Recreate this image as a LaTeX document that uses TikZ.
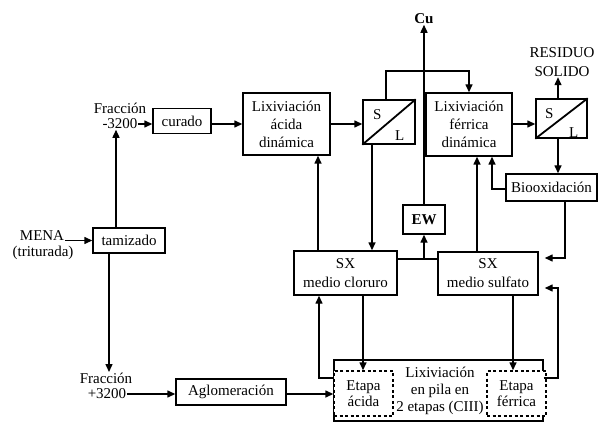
\documentclass[tikz,border=0pt]{standalone}
\usepackage{fontspec}
\setmainfont{Liberation Serif}
\usepackage{tikz}
\usetikzlibrary{arrows.meta,calc}

\begin{document}
\begin{tikzpicture}[->,>={Triangle[length=8pt,width=7pt]},x=1pt,y=-1pt,line width=1.4pt,
  font=\fontsize{15}{18}\selectfont,
  main node/.style={draw,rectangle,inner sep=0pt,align=center},
  sep node/.style={draw,rectangle,inner sep=0pt,minimum width=52pt,minimum height=44pt},
  txt node/.style={inner sep=0pt,align=center},
  stage node/.style={draw,dash pattern=on 3pt off 2.5pt,fill=white,inner sep=0pt,align=center,
    minimum width=59pt,minimum height=45pt,font=\fontsize{15}{16}\selectfont}]
  \useasboundingbox (0,0) rectangle (599,422);
  \node[txt node] (f1a) at (120,108) {Fracción};
  \node[txt node] (f1b) at (120,124) {-3200};
  \node[main node,minimum width=58pt,minimum height=25pt] (curado) at (182,121) {curado};
  \node[main node,minimum width=87pt,minimum height=62pt] (lixa) at (286.5,124) {Lixiviación\\ácida\\dinámica};
  \node[sep node] (sl1) at (389,122) {};
  \node[main node,minimum width=86pt,minimum height=63pt] (lixf) at (469,124.5) {Lixiviación\\férrica\\dinámica};
  \node[sep node,minimum width=51pt,minimum height=39pt] (sl2) at (561.5,118.5) {};
  \node[txt node] (cu) at (424,19) {\textbf{Cu}};
  \node[txt node,font=\fontsize{15}{19}\selectfont] (res) at (562,62) {RESIDUO\\SOLIDO};
  \node[main node,minimum width=91pt,minimum height=27pt] (bio) at (551.5,187.5) {Biooxidación};
  \node[main node,minimum width=42pt,minimum height=29pt] (ew) at (424,219.5) {\textbf{EW}};
  \node[main node,minimum width=103pt,minimum height=44pt,font=\fontsize{15}{19}\selectfont] (sxc) at (345.5,273) {SX\\medio cloruro};
  \node[main node,minimum width=100pt,minimum height=43pt,font=\fontsize{15}{19}\selectfont] (sxs) at (488,273.5) {SX\\medio sulfato};
  \node[txt node] (mena1) at (42,236) {MENA};
  \node[txt node] (mena2) at (43,253) {(triturada)};
  \node[main node,minimum width=72pt,minimum height=25pt] (tam) at (129,240.5) {tamizado};
  \node[txt node] (f2a) at (106,378) {Fracción};
  \node[txt node] (f2b) at (107,394) {+3200};
  \node[main node,minimum width=110pt,minimum height=26pt] (aglo) at (231,392) {Aglomeración};
  \node[main node,minimum width=209pt,minimum height=61pt] (pila) at (438.5,390.5) {};
  \node[stage node] (acid) at (363.5,393.5) {Etapa\\ácida};
  \node[stage node] (ferr) at (516.5,393.5) {Etapa\\férrica};
  \node[txt node,font=\fontsize{15}{17}\selectfont] (pilat) at (440,391) {Lixiviación\\en pila en\\2 etapas (CIII)};

  % separadores solido / liquido
  \draw[-,line width=1.8pt] (sl1.south west) -- (sl1.north east);
  \node[txt node] (s1) at ($(sl1.north west)+(15,15)$) {S};
  \node[txt node] (l1) at ($(sl1.south east)+(-16,-9)$) {L};
  \draw[-,line width=1.8pt] (sl2.south west) -- (sl2.north east);
  \node[txt node] (s2) at ($(sl2.north west)+(14,15)$) {S};
  \node[txt node] (l2) at ($(sl2.south east)+(-14,-6)$) {L};

  % puntos de quiebre
  \coordinate (k1) at (386,71);
  \coordinate (k2) at (558,0);
  \coordinate (k3) at (492,189);
  \coordinate (k4) at (477,0);
  \coordinate (k5) at (565,258);
  \coordinate (k6) at (558,378);
  \coordinate (k7) at (558,288);
  \coordinate (k8) at (372,0);
  \coordinate (k9) at (318,0);
  \coordinate (k10) at (319,378);
  \coordinate (k11) at (424,259);
  \coordinate (k12) at (116,0);
  \coordinate (k13) at (109,0);
  \coordinate (k14) at (513,0);
  \coordinate (k15) at (363,0);

  \draw (f1b.east) -- (curado.west |- f1b);
  \draw (curado.east |- f1b) -- (lixa.west |- f1b);
  \draw (lixa.east |- f1b) -- (sl1.west |- f1b);
  \draw (sl1.north -| k1) -- (k1) -| (lixf.north);
  \draw (ew) -- (cu);
  \draw (lixf.east |- f1b) -- (sl2.west |- f1b);
  \draw (sl2.north -| k2) -- (res.south -| k2);
  \draw (sl2.south -| k2) -- (bio.north -| k2);
  \draw (bio.west |- k3) -| (lixf.south -| k3);
  \draw (sxs.north -| k4) -- (lixf.south -| k4);
  \draw[shorten >=6pt] (bio.south -| k5) |- (sxs.east |- k5);
  \draw[shorten >=6pt] (pila.east |- k6) -| (k7) -- (sxs.east |- k7);
  \draw (sl1.south -| k8) -- (sxc.north -| k8);
  \draw (sxc.north -| k9) -- (lixa.south -| k9);
  \draw (pila.west |- k10) -| (sxc.south -| k10);
  \draw (sxc.south -| k15) -- (acid.north -| k15);
  \draw (sxs.south -| k14) -- (ferr.north -| k14);
  \draw[-] (sxc.east |- k11) -- (sxs.west |- k11);
  \draw (k11) -- (ew.south);
  \draw (tam.north -| k12) -- (f1b.south -| k12);
  \draw (tam.south -| k13) -- (f2a.north -| k13);
  \draw (mena1.east |- tam.west) -- (tam.west);
  \draw (f2b.east) -- (aglo.west |- f2b);
  \draw (aglo.east |- f2b) -- (acid.west |- f2b);
\end{tikzpicture}
\end{document}
